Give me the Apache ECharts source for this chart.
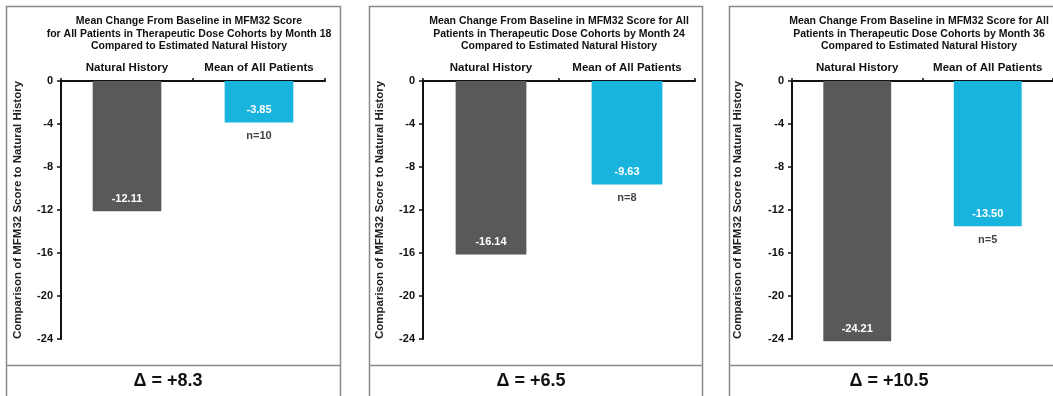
<!DOCTYPE html>
<html>
<head>
<meta charset="utf-8">
<script src="https://cdn.jsdelivr.net/npm/echarts@6/dist/echarts.min.js"></script>
<style>
  html, body { margin: 0; padding: 0; background: #fff; }
  #chart { width: 1053px; height: 396px; }
</style>
</head>
<body>
<div id="chart"></div>
<script>
// Categories shared by the three panels
const categories = ['Natural History', 'Mean of All Patients'];

// Mean change from baseline in MFM32 score, per follow-up month
const month18Values = [-12.11, -3.85];
const month24Values = [-16.14, -9.63];
const month36Values = [-24.21, -13.50];

// Patients contributing to the treated mean
const patientCounts = [10, 8, 5];

// Difference to natural history shown under each panel
const deltaLabels = ['\u0394 = +8.3', '\u0394 = +6.5', '\u0394 = +10.5'];

const panelTitles = [
  'Mean Change From Baseline in MFM32 Score\nfor All Patients in Therapeutic Dose Cohorts by Month 18\nCompared to Estimated Natural History',
  'Mean Change From Baseline in MFM32 Score for All\nPatients in Therapeutic Dose Cohorts by Month 24\nCompared to Estimated Natural History',
  'Mean Change From Baseline in MFM32 Score for All\nPatients in Therapeutic Dose Cohorts by Month 36\nCompared to Estimated Natural History'
];

const yTicks = [0, -4, -8, -12, -16, -20, -24];
const yAxisName = 'Comparison of MFM32 Score to Natural History';

const panelValues = [month18Values, month24Values, month36Values];

const GRAY = '#595959';
const BLUE = '#18B4DE';
const FONT = 'Liberation Sans, Arial, sans-serif';

// Layout of each panel: frame and plotting area
const panels = [
  { frameX: 6,   frameW: 334, gridLeft: 61,  gridW: 264, titleX: 184, nameGap: 37, deltaX: 168 },
  { frameX: 369, frameW: 333, gridLeft: 423, gridW: 272, titleX: 554, nameGap: 37, deltaX: 531 },
  { frameX: 729, frameW: 340, gridLeft: 792, gridW: 262, titleX: 914, nameGap: 48, deltaX: 889 }
];
const GRID_TOP = 81;
const GRID_H = 258;

const chart = echarts.init(document.getElementById('chart'), null, { renderer: 'canvas' });

const grids = [], xAxes = [], yAxes = [], series = [], titles = [], graphics = [];

panels.forEach((p, i) => {
  grids.push({ left: p.gridLeft, top: GRID_TOP, width: p.gridW, height: GRID_H, containLabel: false });

  xAxes.push({
    type: 'category',
    gridIndex: i,
    data: categories,
    position: 'top',
    axisLine: { lineStyle: { color: '#111', width: 2 } },
    axisTick: { show: true, inside: false, length: 3, lineStyle: { color: '#111', width: 1.5 } },
    axisLabel: { interval: 0, color: '#111', fontWeight: 'bold', fontSize: 11.5, fontFamily: FONT, margin: 7 }
  });

  yAxes.push({
    type: 'value',
    gridIndex: i,
    min: -24,
    max: 0,
    interval: 4,
    name: yAxisName,
    nameLocation: 'middle',
    nameGap: p.nameGap,
    nameRotate: 90,
    nameTextStyle: { color: '#222', fontWeight: 'bold', fontSize: 11.5, fontFamily: FONT },
    axisLine: { show: true, lineStyle: { color: '#111', width: 2 } },
    axisTick: { show: true, length: 4, lineStyle: { color: '#111', width: 1.5 } },
    splitLine: { show: false },
    axisLabel: {
      color: '#111', fontWeight: 'bold', fontSize: 11, fontFamily: FONT, margin: 8,
      formatter: v => (yTicks.indexOf(v) >= 0 ? String(v) : '')
    }
  });

  const values = panelValues[i];

  series.push({
    type: 'bar',
    xAxisIndex: i,
    yAxisIndex: i,
    barWidth: '52%',
    clip: false,
    data: values.map((v, k) => ({ value: v, itemStyle: { color: k === 0 ? GRAY : BLUE } })),
    label: {
      show: true,
      position: 'insideBottom',
      distance: 7,
      color: '#fff',
      fontWeight: 'bold',
      fontSize: 11,
      fontFamily: FONT,
      formatter: d => d.value.toFixed(2)
    }
  });

  // Sample-size note placed just below the treated-patients bar
  series.push({
    type: 'scatter',
    xAxisIndex: i,
    yAxisIndex: i,
    symbolSize: 0,
    silent: true,
    data: [[categories[1], values[1]]],
    label: {
      show: true,
      position: 'bottom',
      distance: 8,
      color: '#111',
      fontWeight: 'bold',
      fontSize: 11,
      fontFamily: FONT,
      formatter: () => 'n=' + patientCounts[i]
    }
  });

  titles.push({
    text: panelTitles[i],
    left: p.titleX,
    top: 10,
    textAlign: 'center',
    textStyle: { color: '#111', fontWeight: 'bold', fontSize: 10.5, fontFamily: FONT, lineHeight: 12.5 }
  });

  // Panel frame and the footer row with the difference
  graphics.push({
    type: 'rect',
    shape: { x: p.frameX + 0.5, y: 6.5, width: p.frameW, height: 400 },
    style: { fill: 'none', stroke: '#8a8a8a', lineWidth: 1.5 },
    silent: true
  });
  graphics.push({
    type: 'line',
    shape: { x1: p.frameX, y1: 365.5, x2: p.frameX + p.frameW, y2: 365.5 },
    style: { stroke: '#8a8a8a', lineWidth: 1.5 },
    silent: true
  });
  graphics.push({
    type: 'text',
    x: p.deltaX,
    y: 381,
    style: {
      text: deltaLabels[i],
      fill: '#111',
      font: 'bold 18px ' + FONT,
      textAlign: 'center',
      textVerticalAlign: 'middle'
    },
    silent: true
  });
});

chart.setOption({
  animation: false,
  backgroundColor: '#fff',
  title: titles,
  grid: grids,
  xAxis: xAxes,
  yAxis: yAxes,
  series: series,
  graphic: graphics
});
</script>
</body>
</html>
